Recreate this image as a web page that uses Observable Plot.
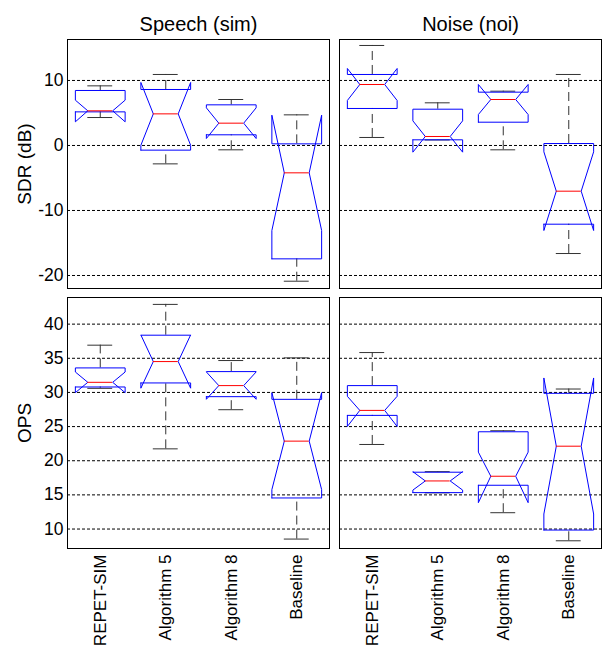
<!DOCTYPE html>
<html><head><meta charset="utf-8">
<script src="https://cdn.jsdelivr.net/npm/d3@7"></script>
<script src="https://cdn.jsdelivr.net/npm/@observablehq/plot@0.6"></script>
<style>
body{margin:0;background:#fff;}
#chart svg{display:block;}
</style></head><body><div id="chart"></div>
<script>
const methods = ["REPET-SIM", "Algorithm 5", "Algorithm 8", "Baseline"];
const conditions = ["Speech (sim)", "Noise (noi)"];
const sdrTicks = [-20, -10, 0, 10];
const opsTicks = [10, 15, 20, 25, 30, 35, 40];
// columns: whiskerLo, q1, median, q3, whiskerHi, notchLo, notchHi
const sdrSpeech = [
  [4.30, 5.17, 5.33, 8.46, 9.17, 3.64, 6.97],
  [-2.83, -0.72, 4.86, 8.61, 10.92, 0.03, 9.69],
  [-0.67, 1.64, 3.43, 6.25, 7.07, 1.07, 5.79],
  [-20.88, -17.44, -4.21, 0.25, 4.71, -13.08, 4.66]
];
const sdrNoise = [
  [1.23, 5.69, 9.38, 10.92, 15.38, 6.92, 11.84],
  [0.85, 0.87, 1.38, 5.58, 6.56, -1.03, 3.79],
  [-0.67, 3.58, 7.07, 8.20, 8.35, 4.76, 9.38],
  [-16.62, -12.11, -7.03, 0.30, 10.92, -13.08, -0.98]
];
const opsSpeech = [
  [30.6, 30.80, 31.48, 33.59, 36.92, 29.97, 32.99],
  [21.74, 31.39, 34.52, 38.38, 42.89, 30.62, 38.42],
  [27.47, 29.38, 31.00, 33.05, 34.67, 29.0, 33.0],
  [8.53, 14.55, 22.87, 28.99, 35.06, 15.77, 29.97]
];
const opsNoise = [
  [22.38, 26.64, 27.37, 31.00, 35.84, 25.02, 29.43],
  [15.3, 15.33, 17.04, 18.32, 18.4, 15.7, 18.4],
  [12.39, 16.41, 17.73, 24.24, 24.39, 13.86, 21.26],
  [8.28, 9.85, 22.13, 29.87, 30.50, 12.2, 32.12]
];

const W = 0.38; // half box width in x units
function rows(cond, arr) {
  return arr.map((s, i) => ({condition: cond, method: i + 1, lo: s[0], q1: s[1], med: s[2], q3: s[3], hi: s[4], nlo: s[5], nhi: s[6]}));
}
function outline(rs) {
  return rs.flatMap(r => {
    const x = r.method;
    const pts = [[x - W, r.q1], [x - W, r.nlo], [x - W / 2, r.med], [x - W, r.nhi], [x - W, r.q3],
                 [x + W, r.q3], [x + W, r.nhi], [x + W / 2, r.med], [x + W, r.nlo], [x + W, r.q1], [x - W, r.q1]];
    return pts.map(([px, py]) => ({condition: r.condition, key: r.condition + r.method, px, py}));
  });
}
function boxMarks(rs, ticks) {
  return [
    Plot.gridY({ticks, stroke: "#000", strokeOpacity: 1, strokeDasharray: "3,2"}),
    Plot.ruleX(rs, {fx: "condition", x: "method", y1: "q3", y2: "hi", stroke: "#333", strokeDasharray: "9,5"}),
    Plot.ruleX(rs, {fx: "condition", x: "method", y1: "lo", y2: "q1", stroke: "#333", strokeDasharray: "9,5"}),
    Plot.ruleY(rs, {fx: "condition", y: "hi", x1: d => d.method - W / 2, x2: d => d.method + W / 2, stroke: "#333"}),
    Plot.ruleY(rs, {fx: "condition", y: "lo", x1: d => d.method - W / 2, x2: d => d.method + W / 2, stroke: "#333"}),
    Plot.line(outline(rs), {fx: "condition", x: "px", y: "py", z: "key", stroke: "#0000ff", strokeWidth: 1, strokeLinejoin: "miter"}),
    Plot.ruleY(rs, {fx: "condition", y: "med", x1: d => d.method - W / 2, x2: d => d.method + W / 2, stroke: "#ff0000"}),
    Plot.frame({stroke: "#000", strokeWidth: 1})
  ];
}
const font = "'Liberation Sans', Arial, sans-serif";
const plain = d => String(d);
const sdrRows = [...rows(conditions[0], sdrSpeech), ...rows(conditions[1], sdrNoise)];
const opsRows = [...rows(conditions[0], opsSpeech), ...rows(conditions[1], opsNoise)];

const sdrPlot = Plot.plot({
  width: 603, height: 292, marginLeft: 67, marginRight: 1, marginTop: 39, marginBottom: 4,
  style: {fontFamily: font, color: "#000", background: "#fff"},
  fx: {domain: conditions, paddingInner: 0.035, paddingOuter: 0},
  x: {domain: [0.5, 4.5], axis: null},
  y: {domain: [-22, 16.3]},
  marks: [
    Plot.axisFx({anchor: "top", tickSize: 0, tickPadding: 9, fontSize: 20, label: null}),
    Plot.axisY({ticks: sdrTicks, tickFormat: plain, tickSize: 0, tickPadding: 4, fontSize: 17.5, label: null}),
    Plot.axisY({ticks: [], label: "SDR (dB)", labelAnchor: "center", labelArrow: "none", labelOffset: 50, fontSize: 19}),
    ...boxMarks(sdrRows, sdrTicks)
  ]
});
const opsPlot = Plot.plot({
  width: 603, height: 356, marginLeft: 67, marginRight: 1, marginTop: 5, marginBottom: 100,
  style: {fontFamily: font, color: "#000", background: "#fff"},
  fx: {domain: conditions, paddingInner: 0.035, paddingOuter: 0, axis: null},
  x: {domain: [0.5, 4.5]},
  y: {domain: [7.15, 43.9]},
  marks: [
    Plot.axisX({ticks: [1, 2, 3, 4], tickFormat: d => methods[d - 1], tickRotate: -90, tickSize: 0, tickPadding: 6, fontSize: 17, label: null}),
    Plot.axisY({ticks: opsTicks, tickFormat: plain, tickSize: 0, tickPadding: 4, fontSize: 17.5, label: null}),
    Plot.axisY({ticks: [], label: "OPS", labelAnchor: "center", labelArrow: "none", labelOffset: 50, fontSize: 19}),
    ...boxMarks(opsRows, opsTicks)
  ]
});
document.getElementById("chart").append(sdrPlot, opsPlot);
</script></body></html>
